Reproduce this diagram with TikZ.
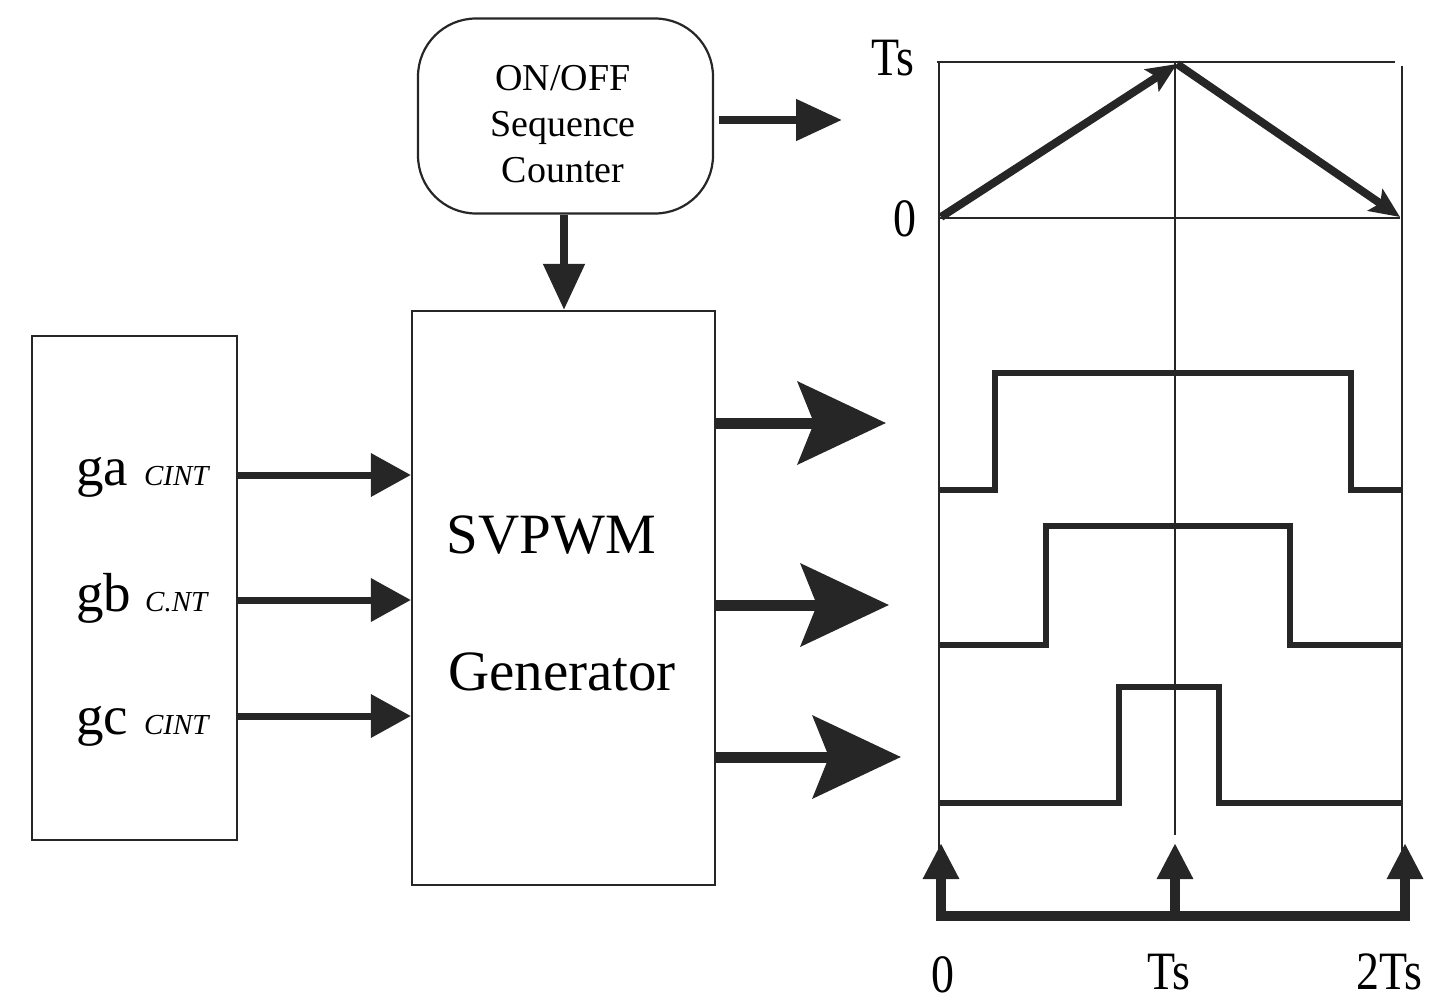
\documentclass[tikz,border=0pt]{standalone}
\usepackage{fontspec}
\setmainfont{Liberation Serif}
\usetikzlibrary{arrows.meta}
\definecolor{ink}{gray}{0.15}
\begin{document}
\begin{tikzpicture}[x=1pt,y=-1pt,
  box/.style={draw=ink, line width=2.2pt, inner sep=0pt},
  inarrow/.style={draw=ink, line width=7pt, -{Triangle[length=40pt,width=42pt]}},
  midarrow/.style={draw=ink, line width=8pt, -{Triangle[length=46pt,width=40pt]}},
  outarrow/.style={draw=ink, line width=11pt, -{Stealth[length=88pt,width=82pt,inset=16pt]}},
  triarrow/.style={draw=ink, line width=8pt, -{Stealth[length=30pt,width=26pt,inset=6pt]}},
  uparrow/.style={draw=ink, line width=10pt, -{Triangle[length=36pt,width=34pt]}},
  wave/.style={draw=ink, line width=6pt, line join=miter},
  thinline/.style={draw=ink, line width=2.5pt},
  lbl/.style={font=\fontsize{54}{54}\selectfont, xscale=0.85, inner sep=0pt},
  gl/.style={anchor=base west, inner sep=0pt, font=\fontsize{55}{55}\selectfont}
]
\useasboundingbox (0,0) rectangle (1450,1004);

% counter
\node[box, rounded corners=58pt, minimum width=295pt, minimum height=195pt] (cnt) at (565.5,116) {};
\node[align=center, font=\fontsize{38}{46}\selectfont, inner sep=0pt] (cnttext) at (563,124)
      {ON/OFF\\Sequence\\Counter};
\coordinate (cntout) at (842,120);
\draw[midarrow, shorten <=5pt] (cnt.east |- cntout) -- (cntout);

% generator
\node[box, minimum width=303pt, minimum height=574pt] (gen) at (563.5,598) {};
\node[font=\fontsize{57}{57}\selectfont, anchor=base, inner sep=0pt] (t1) at (551.5,553) {SVPWM};
\node[font=\fontsize{57}{57}\selectfont, anchor=base, inner sep=0pt] (t2) at (562,690) {Generator};
\draw[midarrow] (cnt.south -| 564,0) -- (gen.north -| 564,0);

% inputs
\node[box, minimum width=205pt, minimum height=504pt] (inp) at (134.5,588) {};
\node[gl] (ga) at (76,485) {ga\hspace{16pt}{\fontsize{29}{29}\selectfont\itshape CINT}};
\node[gl] (gb) at (76,611) {gb\hspace{14pt}{\fontsize{29}{29}\selectfont\itshape C.NT}};
\node[gl] (gc) at (76,734) {gc\hspace{16pt}{\fontsize{29}{29}\selectfont\itshape CINT}};
\coordinate (ya) at (0,475);
\coordinate (yb) at (0,600);
\coordinate (yc) at (0,716);
\draw[inarrow] (inp.east |- ya) -- (gen.west |- ya);
\draw[inarrow] (inp.east |- yb) -- (gen.west |- yb);
\draw[inarrow] (inp.east |- yc) -- (gen.west |- yc);

% outputs
\coordinate (o1) at (886,423);
\coordinate (o2) at (889,605);
\coordinate (o3) at (901,757);
\draw[outarrow] (gen.east |- o1) -- (o1);
\draw[outarrow] (gen.east |- o2) -- (o2);
\draw[outarrow] (gen.east |- o3) -- (o3);

% timing diagram
\draw[thinline] (937,62) -- (1395,62);
\draw[thinline] (939,218) -- (1400,218);
\draw[thinline] (939,62) -- (939,915);
\draw[thinline] (1175,62) -- (1175,835);
\draw[thinline] (1402,66) -- (1402,915);
\draw[triarrow] (941,217) -- (1177,64);
\draw[triarrow] (1177,64) -- (1400,217);

\draw[wave] (940,490) -- (995,490) -- (995,373) -- (1351,373) -- (1351,490) -- (1402,490);
\draw[wave] (940,645) -- (1046,645) -- (1046,526) -- (1290,526) -- (1290,645) -- (1402,645);
\draw[wave] (940,803) -- (1119,803) -- (1119,687) -- (1219,687) -- (1219,803) -- (1402,803);

\draw[draw=ink, line width=10pt] (936,916) -- (1410,916);
\draw[uparrow] (941,921) -- (941,843);
\draw[uparrow] (1175,921) -- (1175,843);
\draw[uparrow] (1405,921) -- (1405,843);

% labels
\node[lbl] (lts) at (893,58) {Ts};
\node[lbl] (l0) at (905,219) {0};
\node[lbl] (b0) at (943,975) {0};
\node[lbl] (bts) at (1169,972) {Ts};
\node[lbl] (b2ts) at (1389,972) {2Ts};
\end{tikzpicture}
\end{document}
